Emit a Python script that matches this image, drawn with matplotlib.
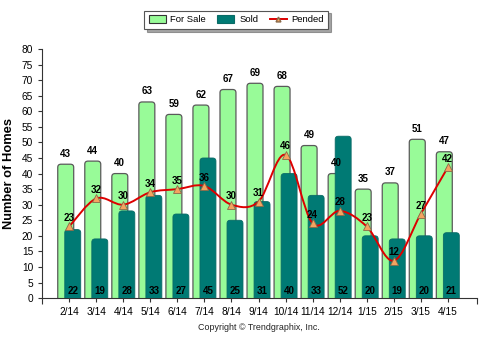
import matplotlib

matplotlib.use("Agg")
import matplotlib.pyplot as plt
import numpy as np
from matplotlib.lines import Line2D
from matplotlib.patches import FancyBboxPatch, PathPatch, Patch
from matplotlib.path import Path

plt.rcParams["font.family"] = ["Liberation Sans", "DejaVu Sans"]

months = ["2/14", "3/14", "4/14", "5/14", "6/14", "7/14", "8/14", "9/14",
          "10/14", "11/14", "12/14", "1/15", "2/15", "3/15", "4/15"]
for_sale = [43, 44, 40, 63, 59, 62, 67, 69, 68, 49, 40, 35, 37, 51, 47]
sold = [22, 19, 28, 33, 27, 45, 25, 31, 40, 33, 52, 20, 19, 20, 21]
pended = [23, 32, 30, 34, 35, 36, 30, 31, 46, 24, 28, 23, 12, 27, 42]

GREEN = "#98fb98"
TEAL = "#007a74"
RED = "#dd0000"
ORANGE = "#f4a460"

fig = plt.figure(figsize=(4.85, 3.43), dpi=100)
ax = fig.add_axes([0.087, 0.131, 0.896, 0.726])

x = np.arange(len(months))
w = 0.59
off = 0.13


def rounded(bars, fc, ec, lw, z):
    # swap the plain rectangles for ones with rounded tops
    for b in bars:
        bx, by = b.get_x(), b.get_y()
        bw, bh = b.get_width(), b.get_height()
        b.set_visible(False)
        p = FancyBboxPatch((bx, by - 2), bw, bh + 2,
                           boxstyle="round,pad=0,rounding_size=0.12",
                           mutation_aspect=8.5, fc=fc, ec=ec, lw=lw,
                           zorder=z, clip_on=True)
        ax.add_patch(p)


b1 = ax.bar(x - off, for_sale, w)
rounded(b1, GREEN, "#5a5a5a", 0.9, 2)
b2 = ax.bar(x + off, sold, w)
rounded(b2, TEAL, "#0a6b66", 0.6, 3)

# smooth pended line (catmull-rom -> bezier)
pts = list(zip(x.astype(float), pended))
verts = [pts[0]]
codes = [Path.MOVETO]
for i in range(len(pts) - 1):
    p0 = pts[i - 1] if i > 0 else pts[i]
    p1, p2 = pts[i], pts[i + 1]
    p3 = pts[i + 2] if i + 2 < len(pts) else pts[i + 1]
    c1 = (p1[0] + (p2[0] - p0[0]) / 6, p1[1] + (p2[1] - p0[1]) / 6)
    c2 = (p2[0] - (p3[0] - p1[0]) / 6, p2[1] - (p3[1] - p1[1]) / 6)
    verts += [c1, c2, p2]
    codes += [Path.CURVE4] * 3
ax.add_patch(PathPatch(Path(verts, codes), fc="none", ec=RED, lw=1.4, zorder=4))
ax.plot(x, pended, ls="", marker="^", ms=5.5, mfc=ORANGE, mec="#8a6a4a",
        mew=0.6, zorder=5)

for i in range(len(months)):
    ax.annotate(str(for_sale[i]), (x[i] - off, for_sale[i]), xytext=(0, 4),
                textcoords="offset points", ha="center", va="bottom",
                fontsize=7, fontweight="bold", zorder=6)
    ax.text(x[i] + off, 0.8, str(sold[i]), ha="center", va="bottom",
            fontsize=7, fontweight="bold", zorder=6)
    ax.annotate(str(pended[i]), (x[i], pended[i]), xytext=(0, 2.5),
                textcoords="offset points", ha="center", va="bottom",
                fontsize=7, fontweight="bold", zorder=6)

ax.set_xlim(-1.0, 15.07)
ax.set_ylim(0, 80)
ax.set_yticks(range(0, 81, 5))
ax.set_xticks(x)
ax.set_xticklabels(months)
ax.set_xticks([-1.0, 15.07], minor=True)
ax.tick_params(axis="both", labelsize=7.3, length=3, width=0.8, color="#333")
ax.tick_params(axis="x", which="minor", length=4, width=0.8, color="#333")
ax.set_ylabel("Number of Homes", fontsize=9.3, fontweight="bold", labelpad=5)
for s in ("top", "right"):
    ax.spines[s].set_visible(False)
for s in ("left", "bottom"):
    ax.spines[s].set_color("#333")
    ax.spines[s].set_linewidth(0.8)

handles = [
    Patch(fc=GREEN, ec="#333", lw=0.8, label="For Sale"),
    Patch(fc=TEAL, ec="#0a6b66", lw=0.8, label="Sold"),
    Line2D([], [], color=RED, lw=1.4, marker="^", ms=3.5, mfc=ORANGE,
           mec="#8a6a4a", label="Pended"),
]
leg = fig.legend(handles=handles, loc="center", bbox_to_anchor=(0.487, 0.942),
                 ncol=3, fontsize=6.8, frameon=True, fancybox=False,
                 shadow=True, edgecolor="#555", handlelength=1.8,
                 handleheight=0.9, handletextpad=0.5, columnspacing=1.2,
                 borderpad=0.5)
leg.get_frame().set_linewidth(0.8)

fig.text(0.534, 0.046, "Copyright \u00a9 Trendgraphix, Inc.", ha="center",
         va="center", fontsize=6.4, color="#222")

fig.savefig("out.png", dpi=100)
